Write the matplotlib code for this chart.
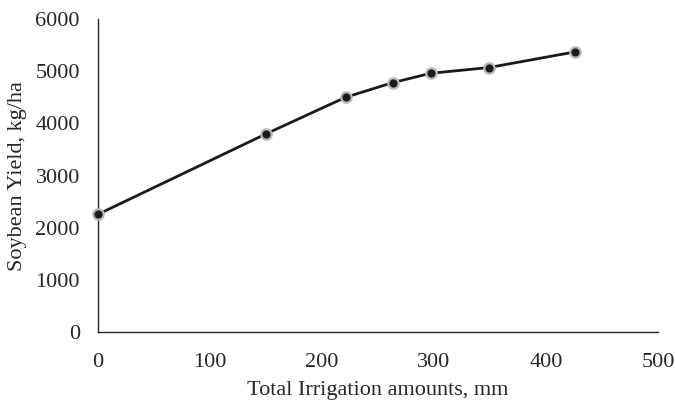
import matplotlib
matplotlib.use('Agg')
import matplotlib.pyplot as plt

# values
irrigation_mm = [0, 150, 221, 263, 297, 349, 426]
yield_kg_ha = [2260, 3800, 4500, 4780, 4960, 5070, 5370]

x_ticks = [0, 100, 200, 300, 400, 500]
y_ticks = [0, 1000, 2000, 3000, 4000, 5000, 6000]

plt.rcParams['font.family'] = ['Liberation Serif', 'DejaVu Serif']

fig = plt.figure(figsize=(6.75, 4.03), dpi=100)
ax = fig.add_axes([0.145, 0.175, 0.83, 0.778])

ax.plot(irrigation_mm, yield_kg_ha, color='#1a1a1a', linewidth=2.0,
        marker='o', markersize=7.5, markerfacecolor='#1a1a1a',
        markeredgecolor='#b8b8b8', markeredgewidth=1.6, clip_on=False, zorder=3)

ax.set_xlim(0, 500)
ax.set_ylim(0, 6000)
ax.set_xticks(x_ticks)
ax.set_yticks(y_ticks)
ax.tick_params(axis='both', length=0, labelsize=16, colors='#262626')
ax.tick_params(axis='x', pad=15)
ax.tick_params(axis='y', pad=13)

for side in ['top', 'right']:
    ax.spines[side].set_visible(False)
for side in ['left', 'bottom']:
    ax.spines[side].set_color('#262626')
    ax.spines[side].set_linewidth(1.0)

ax.set_xlabel('Total Irrigation amounts, mm', fontsize=16, color='#262626', labelpad=6)
# y label sits close to the tick labels, as in the reference
fig.text(18 / 675, 1 - 176 / 403, 'Soybean Yield, kg/ha', fontsize=16, color='#262626',
         rotation=90, ha='center', va='center')

fig.savefig('out.png', dpi=100)
